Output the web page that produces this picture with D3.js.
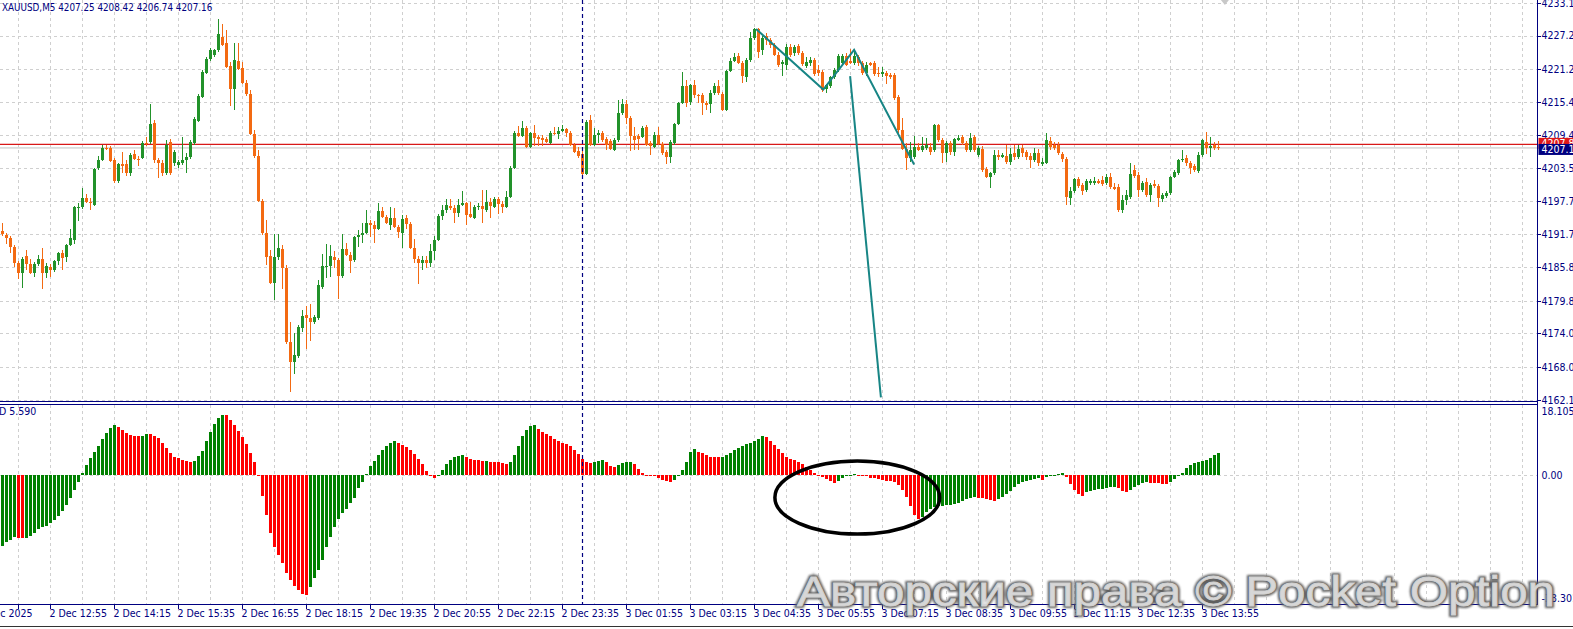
<!DOCTYPE html>
<html>
<head>
<meta charset="utf-8">
<script src="https://cdn.jsdelivr.net/npm/d3@7"></script>
<style>
  html, body { margin: 0; padding: 0; background: #fff; overflow: hidden; }
  svg { display: block; }
  text { font-family: "DejaVu Sans Condensed", "Liberation Sans Narrow", "Liberation Sans", sans-serif; }
</style>
</head>
<body>
<svg id="chart" width="1573" height="629"></svg>
<script>
// XAUUSD M5 candles, [open, high, low, close]
const dec2Noon = [
  [4192.3,4193.7,4191.4,4191.8],[4191.6,4191.9,4190.0,4191.0],[4191.0,4191.4,4188.4,4189.4],[4189.4,4189.8,4185.9,4186.6],
  [4186.6,4186.9,4183.7,4184.8],[4184.8,4187.7,4182.1,4187.3],[4187.8,4188.9,4185.3,4186.4],[4186.4,4187.3,4184.6,4184.8],
  [4184.8,4186.8,4184.1,4186.4],[4186.4,4188.0,4186.0,4187.3],[4187.3,4189.3,4181.9,4184.8],[4184.8,4186.6,4183.9,4186.0],
  [4185.9,4186.4,4184.1,4185.3],[4185.3,4187.1,4185.0,4186.9],[4186.9,4188.5,4186.2,4188.4],[4188.4,4188.9,4185.3,4187.5],
  [4187.7,4190.0,4186.8,4189.8],[4189.8,4192.7,4189.6,4191.0],[4190.7,4196.8,4190.0,4196.6],[4196.4,4197.3,4194.1,4196.6],
  [4196.6,4200.0,4196.2,4198.2],[4198.2,4198.9,4197.3,4197.5],[4197.5,4198.2,4196.1,4197.3],[4196.9,4203.6,4196.8,4203.4],
  [4203.6,4205.7,4203.2,4205.0],[4205.0,4207.7,4204.8,4207.1],[4207.1,4207.7,4206.8,4207.0],[4207.1,4207.5,4204.6,4204.8],
  [4205.0,4205.4,4200.9,4201.2],[4201.2,4204.5,4200.9,4204.3],[4204.3,4206.4,4202.7,4203.9],[4204.3,4205.0,4202.1,4202.7],
  [4202.7,4206.2,4202.1,4205.9],[4206.1,4206.8,4205.0,4205.2],[4205.2,4205.7,4203.9,4205.0],[4205.4,4208.4,4205.2,4208.0],
  [4208.0,4209.1,4207.5,4207.9],[4208.2,4215.0,4207.9,4211.4],[4211.6,4212.1,4204.5,4205.0],[4205.0,4205.4,4201.8,4204.5],
  [4204.5,4205.0,4202.1,4202.7],[4202.7,4208.6,4202.3,4207.7],[4208.2,4208.8,4202.3,4202.7],[4204.5,4206.8,4203.9,4206.4],
  [4204.1,4205.0,4203.6,4204.6],[4204.5,4209.1,4204.1,4205.0],[4205.0,4206.2,4202.7,4205.5],[4205.5,4208.6,4205.2,4208.2],
  [4208.0,4212.7,4207.7,4212.3],[4212.0,4216.8,4211.8,4216.4],[4216.3,4221.1,4216.1,4220.7],[4220.5,4223.4,4220.4,4223.1],
  [4223.1,4225.0,4222.7,4224.7],[4223.8,4224.8,4223.4,4224.7],[4224.7,4230.2,4224.3,4227.5],[4227.0,4229.3,4225.4,4225.6],
  [4225.9,4228.2,4221.4,4221.6],[4221.8,4222.5,4214.6,4217.7],[4217.7,4225.9,4213.9,4222.9],[4222.7,4225.9,4221.1,4221.3],
  [4221.4,4222.5,4218.6,4218.8],[4218.8,4219.3,4216.4,4216.8],[4216.8,4217.5,4209.5,4209.6],[4209.6,4210.4,4205.4,4205.7],
  [4205.7,4206.8,4197.5,4197.7],[4197.7,4198.0,4191.6,4191.9],[4191.9,4194.3,4186.2,4187.7],[4187.8,4188.9,4182.8,4183.0],
  [4183.0,4191.8,4180.0,4187.7],[4187.7,4191.8,4187.1,4189.3],[4189.1,4189.8,4181.9,4185.7],[4185.7,4186.2,4172.1,4172.5],
  [4172.5,4176.0,4163.5,4168.9],[4168.9,4174.1,4166.7,4170.1],[4170.0,4175.5,4169.6,4175.1],[4175.0,4178.2,4174.2,4177.1]
];
const dec2Evening = [
  [4177.3,4178.9,4171.2,4176.7],[4176.7,4179.2,4172.6,4176.0],[4176.0,4177.3,4175.7,4176.9],[4176.7,4183.5,4176.4,4182.6],
  [4182.3,4188.2,4181.9,4186.0],[4185.9,4190.0,4183.9,4186.0],[4186.0,4189.8,4184.1,4187.8],[4187.7,4188.7,4185.7,4187.1],
  [4187.1,4187.5,4180.1,4184.3],[4184.3,4191.8,4183.9,4189.1],[4189.1,4190.2,4187.8,4188.0],[4188.0,4188.5,4184.8,4186.9],
  [4187.1,4191.4,4186.8,4191.2],[4191.2,4192.5,4189.4,4191.6],[4191.6,4193.7,4190.2,4191.9],[4191.9,4196.1,4191.8,4193.7],
  [4193.7,4194.3,4191.2,4193.4],[4193.4,4194.1,4190.2,4192.7],[4192.7,4197.3,4192.5,4195.9],[4195.9,4196.6,4194.6,4194.8],
  [4194.8,4195.2,4193.5,4193.7],[4193.4,4196.6,4192.5,4194.6],[4194.6,4196.4,4192.8,4193.0],[4193.0,4193.4,4191.0,4192.1],
  [4191.9,4195.2,4189.3,4194.4],[4194.6,4195.2,4192.7,4193.5],[4193.5,4193.9,4189.1,4189.3],[4189.3,4190.9,4186.6,4187.3],
  [4187.3,4187.8,4182.8,4186.6],[4186.6,4187.8,4185.3,4187.1],[4187.1,4187.8,4185.7,4186.6],[4186.6,4190.0,4185.9,4188.7],
  [4188.7,4191.4,4187.1,4190.7],[4190.7,4195.3,4190.5,4195.0],[4195.0,4196.9,4194.3,4196.1],[4196.1,4198.0,4195.5,4196.9],
  [4196.8,4198.0,4196.1,4196.4],[4196.4,4196.9,4193.7,4195.5],[4195.5,4198.0,4194.8,4196.9],[4196.9,4199.5,4196.8,4197.3],
  [4197.3,4197.5,4193.4,4195.2],[4195.3,4197.5,4194.6,4194.8],[4194.6,4196.9,4194.4,4196.6],[4196.6,4197.3,4196.1,4196.8],
  [4196.8,4199.6,4193.7,4196.2],[4196.1,4199.6,4195.7,4197.5],[4197.5,4198.2,4194.6,4196.8],[4196.6,4198.4,4196.4,4198.0],
  [4198.0,4198.4,4195.3,4197.1],[4197.1,4197.7,4195.5,4196.6],[4196.6,4199.5,4196.4,4198.4],[4198.4,4203.9,4198.2,4203.6],
  [4203.6,4210.2,4203.4,4209.8],[4209.8,4211.1,4209.1,4209.3],[4209.3,4212.0,4209.1,4210.7],[4210.7,4211.1,4207.1,4207.3],
  [4207.3,4210.0,4207.1,4209.8],[4209.8,4211.3,4207.5,4208.9],[4209.1,4209.5,4207.5,4208.8],[4208.9,4209.5,4207.5,4208.6],
  [4208.8,4209.1,4208.0,4208.2],[4208.0,4210.2,4207.9,4209.8],[4209.8,4210.9,4209.5,4209.6],[4209.6,4210.9,4208.8,4210.2],
  [4210.2,4211.3,4210.0,4210.5],[4210.5,4210.7,4209.1,4209.8],[4209.8,4210.2,4207.5,4207.7],[4207.7,4208.0,4206.2,4206.4],
  [4206.6,4207.3,4205.4,4205.7],[4206.1,4207.1,4202.3,4202.5],[4202.5,4212.1,4202.3,4211.8],[4212.1,4213.0,4207.5,4207.7],
  [4207.7,4210.7,4207.5,4209.5],[4209.5,4210.4,4208.0,4209.8],[4209.8,4210.2,4208.2,4208.6],[4208.8,4209.1,4206.8,4207.7]
];
const dec3Night = [
  [4208.4,4208.8,4206.8,4207.0],[4206.8,4208.9,4206.6,4208.6],[4208.6,4215.7,4208.2,4213.4],[4213.4,4215.9,4213.0,4215.0],
  [4215.0,4215.7,4211.4,4212.5],[4212.5,4212.9,4206.6,4209.3],[4209.3,4210.9,4206.8,4208.6],[4209.3,4209.6,4206.8,4208.8],
  [4209.1,4211.1,4208.9,4210.7],[4210.9,4211.3,4207.5,4207.7],[4208.0,4208.4,4205.9,4207.5],[4207.3,4210.0,4207.1,4209.5],
  [4209.5,4210.9,4207.7,4207.9],[4207.9,4208.2,4205.9,4206.2],[4206.4,4206.8,4204.3,4205.5],[4205.5,4208.6,4204.5,4208.2],
  [4208.0,4211.6,4207.7,4211.4],[4211.4,4215.4,4211.3,4215.2],[4215.2,4220.7,4215.0,4218.2],[4218.2,4219.3,4214.5,4215.2],
  [4215.4,4218.6,4214.8,4218.4],[4218.4,4219.3,4216.1,4216.6],[4216.6,4216.8,4215.2,4216.4],[4216.6,4217.0,4213.0,4215.2],
  [4215.2,4215.5,4213.9,4214.8],[4215.0,4217.5,4213.4,4217.0],[4217.0,4218.8,4216.6,4218.2],[4218.2,4219.3,4216.6,4217.0],
  [4216.8,4217.2,4213.8,4213.9],[4213.9,4221.1,4213.8,4220.9],[4220.9,4223.2,4220.7,4222.7],[4222.7,4224.1,4222.5,4223.4],
  [4223.6,4224.1,4222.2,4222.3],[4222.3,4222.7,4218.8,4220.0],[4219.8,4223.2,4218.9,4222.9],[4222.9,4227.9,4222.5,4226.8],
  [4226.8,4228.6,4226.5,4228.4],[4228.4,4228.6,4223.2,4224.3],[4224.7,4227.2,4223.8,4226.8],[4227.2,4227.7,4225.6,4226.5],
  [4226.5,4226.8,4225.0,4225.6],[4225.6,4225.9,4223.6,4223.8],[4223.8,4224.3,4221.6,4222.0],[4222.2,4222.9,4220.0,4222.5],
  [4222.0,4225.7,4221.1,4225.2],[4225.2,4225.7,4223.4,4223.8],[4224.1,4225.6,4223.6,4225.2],[4225.4,4225.7,4223.8,4224.1],
  [4224.1,4224.5,4221.8,4222.2],[4221.8,4223.4,4221.4,4222.5],[4222.3,4223.4,4221.8,4222.9],[4222.9,4223.2,4220.0,4220.4],
  [4221.1,4222.0,4220.0,4220.5],[4220.7,4221.1,4217.2,4217.5],[4217.7,4218.6,4217.0,4218.4],[4218.2,4220.0,4217.9,4219.8],
  [4219.8,4221.4,4219.5,4221.1],[4221.1,4223.9,4220.7,4223.6],[4222.3,4223.9,4222.2,4223.6],[4223.6,4224.1,4221.8,4222.0],
  [4222.7,4224.8,4222.2,4222.3],[4222.3,4224.7,4222.0,4223.6],[4223.4,4223.8,4221.8,4222.3],[4222.3,4222.7,4220.2,4220.5],
  [4220.5,4222.5,4220.0,4222.0],[4222.3,4222.5,4221.8,4222.0],[4222.3,4222.7,4220.0,4220.4],[4220.5,4221.6,4219.8,4220.4],
  [4220.4,4221.6,4219.8,4220.7],[4220.5,4220.9,4218.6,4220.0],[4220.2,4220.5,4219.5,4219.8],[4220.2,4220.5,4215.7,4216.1],
  [4216.3,4216.6,4209.8,4210.4],[4210.4,4212.5,4206.8,4207.0],[4207.0,4208.0,4203.2,4205.4],[4205.4,4208.2,4204.6,4206.8]
];
const dec3Day = [
  [4205.5,4209.3,4205.2,4207.3],[4207.3,4208.0,4206.6,4206.8],[4206.8,4209.1,4206.4,4207.5],[4207.1,4208.9,4206.8,4207.7],
  [4207.3,4208.0,4205.9,4206.4],[4206.8,4211.4,4206.4,4211.3],[4211.3,4211.4,4208.2,4208.6],[4208.6,4208.9,4204.5,4206.2],
  [4206.2,4208.4,4204.6,4208.0],[4208.0,4208.4,4205.9,4206.4],[4206.4,4208.9,4205.7,4208.8],[4208.6,4209.5,4208.4,4208.9],
  [4209.1,4209.5,4207.7,4208.0],[4208.0,4208.4,4206.4,4206.8],[4206.8,4209.8,4206.4,4208.9],[4209.1,4209.5,4206.4,4206.8],
  [4205.9,4207.5,4205.5,4207.1],[4207.0,4207.5,4202.9,4203.2],[4203.4,4203.7,4201.8,4202.0],[4202.0,4202.9,4200.0,4202.7],
  [4202.7,4206.8,4202.3,4205.9],[4205.9,4206.8,4205.0,4205.5],[4205.5,4206.2,4205.4,4205.9],[4205.7,4207.7,4204.3,4204.6],
  [4204.6,4207.1,4204.1,4206.1],[4206.2,4207.7,4205.0,4205.5],[4205.5,4207.7,4205.2,4207.0],[4207.1,4207.7,4205.5,4206.2],
  [4206.4,4206.8,4205.0,4205.5],[4205.7,4206.2,4203.6,4205.0],[4205.0,4207.1,4204.6,4206.2],[4206.2,4207.0,4203.9,4204.5],
  [4204.3,4205.4,4203.9,4204.6],[4204.5,4209.8,4204.3,4208.6],[4208.4,4209.1,4206.8,4207.3],[4207.7,4208.2,4206.8,4207.1],
  [4207.7,4208.2,4205.9,4206.2],[4206.1,4206.4,4204.6,4205.2],[4205.2,4205.5,4196.9,4198.4],[4198.2,4200.2,4196.9,4199.5],
  [4199.5,4201.8,4199.1,4201.6],[4201.6,4202.0,4200.0,4200.3],[4200.5,4200.9,4198.7,4199.5],[4199.6,4201.6,4199.3,4201.2],
  [4200.9,4201.6,4200.5,4201.2],[4200.9,4202.0,4200.5,4201.2],[4201.2,4201.6,4200.7,4200.9],[4201.4,4202.1,4200.3,4200.7],
  [4200.9,4202.5,4200.5,4202.0],[4202.0,4202.7,4199.8,4200.2],[4200.2,4200.9,4199.6,4199.8],[4200.2,4200.7,4195.7,4196.1],
  [4196.1,4198.7,4195.5,4197.8],[4197.8,4199.6,4196.9,4198.7],[4198.4,4204.5,4198.0,4202.5],[4203.2,4204.1,4201.8,4202.1],
  [4202.3,4202.9,4198.4,4199.6],[4199.6,4201.2,4199.3,4200.9],[4201.1,4201.8,4198.4,4198.7],[4198.7,4200.9,4197.5,4200.5],
  [4200.7,4201.4,4200.0,4200.3],[4200.3,4200.7,4196.6,4198.2],[4198.0,4199.1,4197.5,4198.7],[4198.6,4199.5,4198.2,4199.1],
  [4199.1,4202.1,4198.7,4202.0],[4202.0,4203.2,4201.8,4202.9],[4202.7,4205.2,4202.3,4205.0],[4205.0,4206.8,4204.6,4205.2],
  [4205.4,4205.9,4203.9,4204.5],[4204.5,4204.8,4202.5,4203.6],[4203.9,4204.3,4202.9,4203.2],[4203.0,4206.4,4202.7,4205.9],
  [4205.9,4208.8,4205.5,4208.6],[4208.2,4210.0,4206.1,4207.1],[4207.1,4209.1,4205.5,4207.5],[4207.7,4208.2,4206.8,4207.1],
  [4207.25,4208.42,4206.74,4207.16]
];

// Awesome Oscillator, one value per candle
const aoDec2 = [
  -18.3,-17.3,-16.6,-15.9,-16.1,-16.2,-16.1,-15.7,-14.9,-14.0,
  -13.5,-13.1,-12.4,-11.6,-10.5,-9.3,-7.7,-5.8,-3.9,-1.8,
  0.6,2.6,4.3,5.8,7.5,9.3,10.7,12.0,12.9,12.3,
  11.5,10.7,10.2,10.0,9.9,10.1,10.6,10.5,10.1,9.4,
  8.3,6.9,5.6,4.7,4.3,3.9,3.5,3.2,3.6,4.9,
  6.2,8.8,11.1,13.1,14.6,15.4,15.3,14.1,12.9,11.4,
  9.7,8.0,5.7,3.3,-0.4,-5.4,-10.3,-14.8,-18.4,-20.7,
  -22.7,-25.1,-27.0,-28.5,-29.6,-30.6,-30.8,-28.7,-26.6,-24.4,
  -21.9,-18.4,-15.9,-13.3,-11.4,-9.9,-8.8,-7.3,-5.8,-3.4,
  -1.7,0.2,2.4,3.6,5.1,6.4,7.5,8.1,8.7,8.2,
  7.8,7.3,6.5,5.4,4.1,2.7,0.9,-0.4,-0.9,-0.3,
  1.3,2.7,3.9,4.5,4.9,5.1,4.7,4.1,3.9,3.8,
  3.5,3.6,3.4,3.3,3.2,3.1,2.8,3.2,5.1,7.5,
  9.9,11.6,12.6,12.9,11.8,11.0,10.5,9.9,9.2,8.8,
  8.3,8.0,7.5,6.4,5.3,4.0,3.2,3.1,3.4,3.7,
  3.9,3.3
];
const aoDec3 = [
  2.3,2.1,2.5,3.1,3.3,3.4,2.7,1.5,
  0.4,-0.1,-0.3,-0.4,-0.9,-1.3,-1.5,-1.7,-1.3,-0.4,
  1.3,3.4,6.0,6.6,6.0,5.7,5.1,4.7,4.6,4.5,
  4.7,5.1,5.7,6.4,6.9,7.5,7.9,8.3,8.7,9.3,
  10.0,9.7,8.8,7.7,6.7,5.6,4.7,4.2,3.8,3.3,
  2.8,2.1,1.3,0.5,-0.2,-0.6,-1.1,-1.5,-2.1,-1.5,
  -0.8,-0.3,0.1,0.3,0.0,-0.3,-0.4,-0.7,-0.9,-1.1,
  -1.3,-1.5,-1.6,-1.9,-2.6,-3.9,-5.7,-8.1,-10.3,-11.4,
  -10.9,-9.4,-8.7,-8.3,-8.1,-7.9,-7.8,-7.6,-7.5,-7.1,
  -6.7,-6.3,-6.0,-5.7,-5.8,-6.0,-6.3,-6.4,-6.6,-6.3,
  -5.6,-5.0,-4.0,-3.2,-2.3,-1.7,-1.5,-1.3,-1.1,-0.9,
  -1.3,-0.6,-0.3,-0.1,0.2,0.4,-0.6,-2.3,-3.9,-5.0,
  -5.4,-4.4,-4.0,-3.9,-3.7,-3.5,-3.3,-3.2,-3.0,-3.4,
  -4.0,-4.5,-3.9,-3.2,-2.6,-2.1,-1.9,-2.1,-2.15,-2.2,
  -2.3,-2.4,-1.7,-1.1,-0.4,0.4,1.7,2.6,3.0,3.3,
  3.6,3.9,4.4,5.0,5.59
];

const priceTicks = [4233.10, 4227.25, 4221.25, 4215.40, 4209.40, 4203.55, 4197.70,
  4191.70, 4185.85, 4179.85, 4174.00, 4168.00, 4162.15];
const aoRange = [-33.301, 18.105];

const timeLabels = [
  { bar: 4, text: "2 Dec 2025" }, { bar: 12, text: "2 Dec 12:55" }, { bar: 28, text: "2 Dec 14:15" },
  { bar: 44, text: "2 Dec 15:35" }, { bar: 60, text: "2 Dec 16:55" }, { bar: 76, text: "2 Dec 18:15" },
  { bar: 92, text: "2 Dec 19:35" }, { bar: 108, text: "2 Dec 20:55" }, { bar: 124, text: "2 Dec 22:15" },
  { bar: 140, text: "2 Dec 23:35" }, { bar: 156, text: "3 Dec 01:55" }, { bar: 172, text: "3 Dec 03:15" },
  { bar: 188, text: "3 Dec 04:35" }, { bar: 204, text: "3 Dec 05:55" }, { bar: 220, text: "3 Dec 07:15" },
  { bar: 236, text: "3 Dec 08:35" }, { bar: 252, text: "3 Dec 09:55" }, { bar: 268, text: "3 Dec 11:15" },
  { bar: 284, text: "3 Dec 12:35" }, { bar: 300, text: "3 Dec 13:55" }
];

// drawn objects: zigzag trend line, the long falling line, separator, price lines, ellipse
const zigzag = [[188.4, 4228.4], [205.2, 4217.6], [212.9, 4224.7], [227.9, 4204.2]];
const fallLine = [[211.9, 4220.0], [219.6, 4162.6]];
const separatorBar = 145;
const redLinePrice = 4207.80;
const symbol = "XAUUSD,M5";
const ellipseNote = { bar: 213.7, value: -5.8, barRadius: 20.6, valueRadius: 9.4 };
const watermark = "Авторские права © Pocket Option";

const svg = d3.select("#chart");
const W = 1573, H = 629;
const axisX = 1537.5;
const mainPane = { top: 0, bottom: 401.5 };
const aoPane = { top: 404.5, bottom: 604.5 };
const navy = "#000080";
const gridColor = "#cfcfcf";
const bullColor = "#22922a", bearColor = "#f36a12";

const candles = [].concat(dec2Noon, dec2Evening, dec3Night, dec3Day)
  .map((d, i) => ({ i, o: d[0], h: d[1], l: d[2], c: d[3] }));
const aoValues = aoDec2.concat(aoDec3).map((v, i, a) => ({ i, v, up: i === 0 || v >= a[i - 1] }));
const last = candles[candles.length - 1];

const x = d3.scaleLinear().domain([0, 1]).range([2.5, 6.5]);
const y = d3.scaleLinear().domain([priceTicks[priceTicks.length - 1], priceTicks[0]]).range([399.8, 2.8]);
const yAO = d3.scaleLinear().domain(aoRange).range([aoPane.bottom, aoPane.top]);

const defs = svg.append("defs");
defs.append("clipPath").attr("id", "clipMain").append("rect")
  .attr("x", 0).attr("y", mainPane.top).attr("width", axisX).attr("height", mainPane.bottom - mainPane.top);
defs.append("clipPath").attr("id", "clipAO").append("rect")
  .attr("x", 0).attr("y", aoPane.top).attr("width", axisX).attr("height", aoPane.bottom - aoPane.top);
const glow = defs.append("filter").attr("id", "wmGlow").attr("x", "-5%").attr("y", "-30%").attr("width", "110%").attr("height", "160%");
glow.append("feGaussianBlur").attr("stdDeviation", 1.1);

svg.append("rect").attr("width", W).attr("height", H).attr("fill", "#fff");

// grid
const gridBars = d3.range(4, 384, 8);
const grid = svg.append("g").attr("stroke", gridColor).attr("stroke-dasharray", "3,3").attr("shape-rendering", "crispEdges");
gridBars.forEach(b => {
  grid.append("line").attr("x1", x(b)).attr("x2", x(b)).attr("y1", mainPane.top).attr("y2", mainPane.bottom);
  grid.append("line").attr("x1", x(b)).attr("x2", x(b)).attr("y1", aoPane.top).attr("y2", aoPane.bottom);
});
grid.selectAll(".hp").data(priceTicks).enter().append("line")
  .attr("x1", 0).attr("x2", axisX).attr("y1", d => Math.round(y(d)) + 0.5).attr("y2", d => Math.round(y(d)) + 0.5);
grid.append("line").attr("x1", 0).attr("x2", axisX)
  .attr("y1", Math.round(yAO(0)) + 0.5).attr("y2", Math.round(yAO(0)) + 0.5);

// main pane
const mainG = svg.append("g").attr("clip-path", "url(#clipMain)");

mainG.append("line").attr("x1", 0).attr("x2", axisX)
  .attr("y1", y(last.c)).attr("y2", y(last.c)).attr("stroke", "#c0c0c0");
mainG.append("line").attr("x1", 0).attr("x2", axisX)
  .attr("y1", y(redLinePrice)).attr("y2", y(redLinePrice)).attr("stroke", "#d81818").attr("stroke-width", 1.2);

const candleG = mainG.append("g").attr("shape-rendering", "crispEdges");
candleG.selectAll("line.wick").data(candles).enter().append("line")
  .attr("class", "wick")
  .attr("x1", d => x(d.i)).attr("x2", d => x(d.i))
  .attr("y1", d => y(d.h)).attr("y2", d => y(d.l))
  .attr("stroke", d => d.c >= d.o ? bullColor : bearColor);
candleG.selectAll("rect.body").data(candles).enter().append("rect")
  .attr("class", "body")
  .attr("x", d => x(d.i) - 1.5)
  .attr("width", 3)
  .attr("y", d => y(Math.max(d.o, d.c)))
  .attr("height", d => Math.max(1, Math.abs(y(d.o) - y(d.c))))
  .attr("fill", d => d.c >= d.o ? bullColor : bearColor);

const line = d3.line().x(d => x(d[0])).y(d => y(d[1]));
mainG.append("path").datum(zigzag).attr("d", line)
  .attr("fill", "none").attr("stroke", "#178585").attr("stroke-width", 2);
mainG.append("path").datum(fallLine).attr("d", line)
  .attr("fill", "none").attr("stroke", "#178585").attr("stroke-width", 2);

// AO pane
const aoG = svg.append("g").attr("clip-path", "url(#clipAO)").attr("shape-rendering", "crispEdges");
aoG.selectAll("rect").data(aoValues).enter().append("rect")
  .attr("x", d => x(d.i) - 1.5)
  .attr("width", 3)
  .attr("y", d => yAO(Math.max(0, d.v)))
  .attr("height", d => Math.max(1, Math.abs(yAO(d.v) - yAO(0))))
  .attr("fill", d => d.up ? "#008000" : "#ff0000");

// separator (dashed vertical)
svg.append("line")
  .attr("x1", x(separatorBar)).attr("x2", x(separatorBar))
  .attr("y1", 0).attr("y2", aoPane.bottom)
  .attr("stroke", navy).attr("stroke-dasharray", "4,3").attr("stroke-width", 1.2);

// hand-drawn ellipse
svg.append("ellipse")
  .attr("cx", x(ellipseNote.bar)).attr("cy", yAO(ellipseNote.value))
  .attr("rx", x(ellipseNote.bar + ellipseNote.barRadius) - x(ellipseNote.bar))
  .attr("ry", yAO(ellipseNote.value - ellipseNote.valueRadius) - yAO(ellipseNote.value))
  .attr("fill", "none").attr("stroke", "#000").attr("stroke-width", 3.5);

// frame
const frame = svg.append("g").attr("stroke", navy).attr("shape-rendering", "crispEdges");
frame.append("line").attr("x1", axisX).attr("x2", axisX).attr("y1", 0).attr("y2", aoPane.bottom);
frame.append("line").attr("x1", 0).attr("x2", axisX).attr("y1", mainPane.bottom).attr("y2", mainPane.bottom);
frame.append("line").attr("x1", 0).attr("x2", axisX).attr("y1", aoPane.top).attr("y2", aoPane.top);
frame.append("line").attr("x1", 0).attr("x2", axisX).attr("y1", aoPane.bottom).attr("y2", aoPane.bottom);
priceTicks.forEach(p => frame.append("line").attr("x1", axisX).attr("x2", axisX + 3)
  .attr("y1", Math.round(y(p)) + 0.5).attr("y2", Math.round(y(p)) + 0.5));
timeLabels.forEach(t => frame.append("line").attr("x1", x(t.bar)).attr("x2", x(t.bar))
  .attr("y1", aoPane.bottom).attr("y2", aoPane.bottom + 4));

// price axis labels
const labels = svg.append("g").attr("fill", navy).attr("font-size", 10.5);
labels.selectAll("text.p").data(priceTicks).enter().append("text")
  .attr("x", axisX + 4).attr("y", d => y(d)).attr("dy", "0.36em")
  .text(d => d.toFixed(2));
[[aoPane.top + 7, aoRange[1].toFixed(3)], [yAO(0), "0.00"], [aoPane.bottom - 6, aoRange[0].toFixed(3)]]
  .forEach(([py, txt]) => labels.append("text").attr("x", axisX + 4).attr("y", py).attr("dy", "0.36em").text(txt));

// price tags
const tag = (price, bg, dy) => {
  const g = svg.append("g");
  g.append("rect").attr("x", axisX + 1).attr("y", y(price) + dy - 5.5).attr("width", W - axisX).attr("height", 11).attr("fill", bg);
  g.append("text").attr("x", axisX + 4).attr("y", y(price) + dy).attr("dy", "0.36em")
    .attr("fill", "#fff").attr("font-size", 10.5).text(price.toFixed(2));
};
tag(redLinePrice, "#e01818", -1);
tag(last.c, "#000080", 1.5);

// time labels
labels.selectAll("text.t").data(timeLabels).enter().append("text")
  .attr("x", d => d.bar === 4 ? x(d.bar) + 14 : x(d.bar) - 1)
  .attr("text-anchor", d => d.bar === 4 ? "end" : "start")
  .attr("y", 617).text(d => d.text);

// titles
labels.append("text").attr("x", 2).attr("y", 11).attr("font-size", 9.8)
  .text(`${symbol}  ${last.o.toFixed(2)} ${last.h.toFixed(2)} ${last.l.toFixed(2)} ${last.c.toFixed(2)}`);
labels.append("text").attr("x", -1).attr("y", aoPane.top + 7).attr("dy", "0.36em")
  .text(`D ${aoValues[aoValues.length - 1].v.toFixed(3)}`);

// shift marker
svg.append("path")
  .attr("d", `M${x(305.6) - 4},0 L${x(305.6) + 4},0 L${x(305.6)},5 Z`).attr("fill", "#c8c8c8");

// bottom status line
svg.append("line").attr("x1", 0).attr("x2", W).attr("y1", 626.5).attr("y2", 626.5).attr("stroke", "#333");

// watermark
const wm = svg.append("g").attr("font-size", 42);
wm.append("text").attr("x", 797).attr("y", 606).attr("textLength", 758).attr("lengthAdjust", "spacingAndGlyphs")
  .attr("fill", "none").attr("stroke", "#5f5f5f").attr("stroke-width", 4).attr("filter", "url(#wmGlow)")
  .style("font-family", "'Liberation Sans', Arial, sans-serif").text(watermark);
wm.append("text").attr("x", 797).attr("y", 606).attr("textLength", 758).attr("lengthAdjust", "spacingAndGlyphs")
  .attr("fill", "#ffffff").attr("fill-opacity", 0.75).attr("stroke", "#d0d0d0").attr("stroke-width", 0.8)
  .style("font-family", "'Liberation Sans', Arial, sans-serif").text(watermark);
</script>
</body>
</html>
